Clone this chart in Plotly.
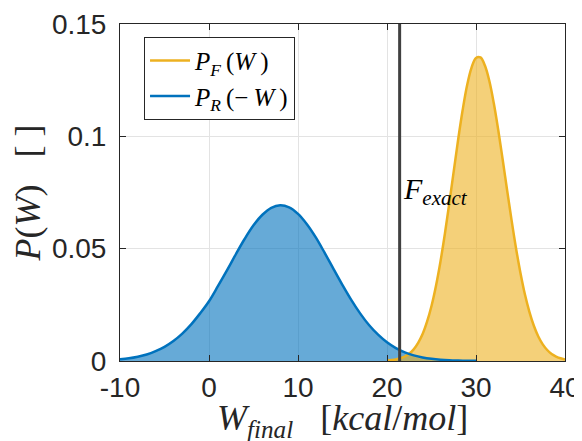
import plotly.graph_objects as go

# ---- data ----
x_rev = list(range(-10, 31))
p_rev = [0.0008, 0.0012, 0.0019, 0.0029, 0.0044, 0.0063, 0.0089, 0.0122, 0.0163, 0.0212,
         0.0266, 0.0333, 0.0402, 0.0474, 0.0543, 0.0604, 0.0651, 0.0682, 0.0693, 0.0684,
         0.0655, 0.0609, 0.0550, 0.0481, 0.0409, 0.0338, 0.0271, 0.0211, 0.0159, 0.0117,
         0.0083, 0.0057, 0.0038, 0.0025, 0.0016, 0.0010, 0.0006, 0.00035, 0.0002, 0.0001,
         0.00006]

x_fwd = [20 + 0.5 * i for i in range(41)]
p_fwd = [0.0002, 0.0004, 0.0007, 0.0012, 0.0020, 0.0033, 0.0052, 0.0081, 0.0120, 0.0175,
         0.0245, 0.0334, 0.0441, 0.0565, 0.0702, 0.0845, 0.0987, 0.1117, 0.1227, 0.1306,
         0.1349, 0.1351, 0.1315, 0.1246, 0.1147, 0.1028, 0.0896, 0.0759, 0.0626, 0.0501,
         0.0391, 0.0296, 0.0219, 0.0157, 0.0109, 0.0074, 0.0049, 0.0031, 0.0020, 0.0012,
         0.0007]

F_exact = 21.42

x_ticks = [-10, 0, 10, 20, 30, 40]
y_ticks = [0, 0.05, 0.1, 0.15]
y_tick_labels = ["0", "0.05", "0.1", "0.15"]

BLUE = "#0072BD"
YELLOW = "#EDB120"
SERIF = "Liberation Serif, DejaVu Serif, serif"
SANS = "Liberation Sans, Arial, sans-serif"
NB = "\u00a0"
TS = "\u2009"

fig = go.Figure()

# fills
fig.add_trace(go.Scatter(x=x_rev, y=p_rev, mode="lines", line=dict(width=0, shape="spline"),
                         fill="tozeroy", fillcolor="rgba(0,114,189,0.6)",
                         showlegend=False, hoverinfo="skip"))
fig.add_trace(go.Scatter(x=x_fwd, y=p_fwd, mode="lines", line=dict(width=0, shape="spline"),
                         fill="tozeroy", fillcolor="rgba(237,177,32,0.6)",
                         showlegend=False, hoverinfo="skip"))
# lines
fig.add_trace(go.Scatter(x=x_fwd, y=p_fwd, mode="lines", line=dict(color=YELLOW, width=2.5, shape="spline"),
                         name="<i>P</i><sub><i>F</i></sub>" + TS + "(<i>W</i>" + TS + ")", legendrank=1))
fig.add_trace(go.Scatter(x=x_rev, y=p_rev, mode="lines", line=dict(color=BLUE, width=2.5, shape="spline"),
                         name="<i>P</i><sub><i>R</i></sub>" + TS + "(\u2212" + TS + "<i>W</i>" + TS + ")",
                         legendrank=2))
# vertical line F_exact
fig.add_trace(go.Scatter(x=[F_exact, F_exact], y=[y_ticks[0], y_ticks[-1]], mode="lines",
                         line=dict(color="#404040", width=3), showlegend=False, hoverinfo="skip"))

fig.add_annotation(x=F_exact + 0.2, y=0.0755, xref="x", yref="y", xanchor="left", yanchor="middle",
                   text="<i>F</i><sub><i>exact</i></sub>", showarrow=False,
                   font=dict(family=SERIF, size=30, color="#000000"))

# x-axis title (placed as an annotation so it can sit low like the reference)
fig.add_annotation(x=0.5, y=-0.176, xref="paper", yref="paper", xanchor="center", yanchor="middle",
                   text="<i>W</i><sub><i>final</i></sub>" + NB * 3 + "[<i>kcal</i>/<i>mol</i>]",
                   showarrow=False, font=dict(family=SERIF, size=36, color="#262626"))

axis_common = dict(showline=True, linecolor="#262626", linewidth=1, mirror="allticks",
                   ticks="inside", ticklen=6, tickcolor="#262626",
                   showgrid=True, gridcolor="#e3e3e3", gridwidth=1, zeroline=False,
                   automargin=False,
                   tickfont=dict(family=SANS, size=28, color="#262626"))

fig.update_xaxes(range=[-10, 40], tickvals=x_ticks, ticktext=[str(v) for v in x_ticks],
                 ticklabelstandoff=1,
                 **axis_common)
fig.update_yaxes(range=[0, 0.15], tickvals=y_ticks, ticktext=y_tick_labels,
                 ticklabelstandoff=7,
                 title=dict(text="<i>P</i>(<i>W</i>)" + NB * 3 + "[" + NB + "]",
                            font=dict(family=SERIF, size=36, color="#262626"), standoff=0),
                 **axis_common)

# the page body adds an 8px margin, so the figure is sized/offset to compensate
fig.update_layout(
    width=574, height=433,
    margin=dict(l=112, r=17, t=16, b=80),
    paper_bgcolor="white", plot_bgcolor="white",
    showlegend=True,
    legend=dict(x=0.054, y=0.962, xanchor="left", yanchor="top",
                bgcolor="white", bordercolor="#262626", borderwidth=1,
                font=dict(family=SERIF, size=25, color="#000000"),
                tracegroupgap=0, itemwidth=40),
)

fig.write_html("out.html")
